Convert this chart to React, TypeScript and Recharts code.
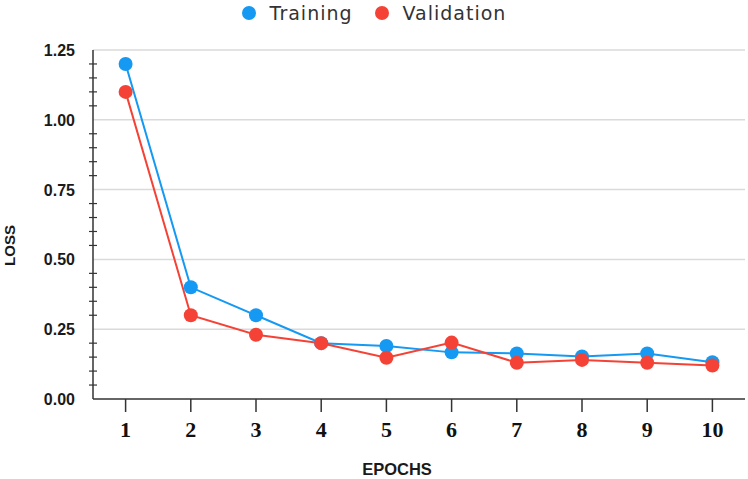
import React from "react";
import { LineChart, Line, XAxis, YAxis, ReferenceLine, Legend } from "recharts";

// Loss per epoch
const EPOCHS = [1, 2, 3, 4, 5, 6, 7, 8, 9, 10];
const TRAINING = [1.2, 0.4, 0.3, 0.2, 0.19, 0.167, 0.163, 0.152, 0.163, 0.132];
const VALIDATION = [1.1, 0.3, 0.23, 0.2, 0.148, 0.202, 0.13, 0.14, 0.13, 0.12];

const Y_MAJOR = [0, 0.25, 0.5, 0.75, 1.0, 1.25];
const Y_TICKS = [
  0, 0.05, 0.1, 0.15, 0.2, 0.25, 0.3, 0.35, 0.4, 0.45, 0.5, 0.55, 0.6, 0.65,
  0.7, 0.75, 0.8, 0.85, 0.9, 0.95, 1.0, 1.05, 1.1, 1.15, 1.2, 1.25,
];

const BLUE = "#1599F2";
const RED = "#F44336";
const AXIS = "#333";
const GRID = "#dadada";
const SANS = "'Liberation Sans', Arial, sans-serif";

const data = EPOCHS.map((e, i) => ({
  epoch: e,
  training: TRAINING[i],
  validation: VALIDATION[i],
}));

/** y ticks: minor marks cross the axis, majors only get a label (gridline marks them). */
function YTick({ x, y, payload }: any) {
  const v = payload.value as number;
  const major = Y_MAJOR.includes(v);
  return (
    <g>
      {!major && <line x1={x - 4} x2={x + 4} y1={y} y2={y} stroke={AXIS} strokeWidth={1.2} />}
      {major && (
        <text
          x={x - 18}
          y={y}
          dy={6}
          textAnchor="end"
          fontFamily={SANS}
          fontWeight="bold"
          fontSize={16}
          fill="#1a1a1a"
        >
          {v.toFixed(2)}
        </text>
      )}
    </g>
  );
}

function LegendContent({ payload }: any) {
  return (
    <div
      style={{
        display: "flex",
        justifyContent: "center",
        alignItems: "center",
        gap: 22,
        height: 26,
        fontFamily: "'DejaVu Sans', Verdana, sans-serif",
        fontSize: 19,
        letterSpacing: 1,
        color: "#333",
      }}
    >
      {(payload || []).map((p: any) => (
        <div key={p.value} style={{ display: "flex", alignItems: "center", gap: 14 }}>
          <span
            style={{ width: 14, height: 14, borderRadius: 7, background: p.color, display: "inline-block" }}
          />
          <span>{p.value}</span>
        </div>
      ))}
    </div>
  );
}

export default function App() {
  return (
    <div style={{ position: "absolute", left: 0, top: 0, width: 748, height: 479, background: "#fff" }}>
      <LineChart width={748} height={479} data={data} margin={{ top: 50, right: 3, bottom: 0, left: 0 }}>
        <Legend
          layout="horizontal"
          verticalAlign="middle"
          align="center"
          content={<LegendContent />}
          wrapperStyle={{ top: 0, left: 0, width: 748, height: 26 }}
        />
        {Y_MAJOR.filter((v) => v > 0).map((v) => (
          <ReferenceLine key={v} y={v} stroke={GRID} strokeWidth={1.5} />
        ))}
        <XAxis
          dataKey="epoch"
          type="number"
          domain={[0.5, 10.5]}
          ticks={EPOCHS}
          interval={0}
          height={80}
          stroke={AXIS}
          strokeWidth={1.5}
          tickSize={13}
          tickMargin={9}
          tick={{ fontFamily: "'Liberation Serif', 'Times New Roman', serif", fontWeight: "bold", fontSize: 22, fill: "#111" }}
          label={{
            content: ({ viewBox }: any) => (
              <text
                x={viewBox.x + viewBox.width / 2 - 22}
                y={475}
                textAnchor="middle"
                fontFamily={SANS}
                fontWeight="bold"
                fontSize={16.5}
                fill="#1a1a1a"
              >
                EPOCHS
              </text>
            ),
          }}
        />
        <YAxis
          type="number"
          domain={[0, 1.25]}
          ticks={Y_TICKS}
          interval={0}
          width={93}
          stroke={AXIS}
          strokeWidth={1.5}
          tickLine={false}
          tickSize={0}
          tickMargin={0}
          tick={<YTick />}
          label={{
            content: ({ viewBox }: any) => (
              <text
                x={15}
                y={viewBox.y + viewBox.height / 2 + 21}
                textAnchor="middle"
                transform={`rotate(-90, 15, ${viewBox.y + viewBox.height / 2 + 21})`}
                fontFamily={SANS}
                fontWeight="bold"
                fontSize={15}
                fill="#1a1a1a"
              >
                LOSS
              </text>
            ),
          }}
        />
        <Line
          dataKey="training"
          name="Training"
          stroke={BLUE}
          strokeWidth={2}
          dot={{ r: 7, fill: BLUE, stroke: BLUE, strokeWidth: 0 }}
          activeDot={false}
          isAnimationActive={false}
        />
        <Line
          dataKey="validation"
          name="Validation"
          stroke={RED}
          strokeWidth={2}
          dot={{ r: 7, fill: RED, stroke: RED, strokeWidth: 0 }}
          activeDot={false}
          isAnimationActive={false}
        />
      </LineChart>
    </div>
  );
}
